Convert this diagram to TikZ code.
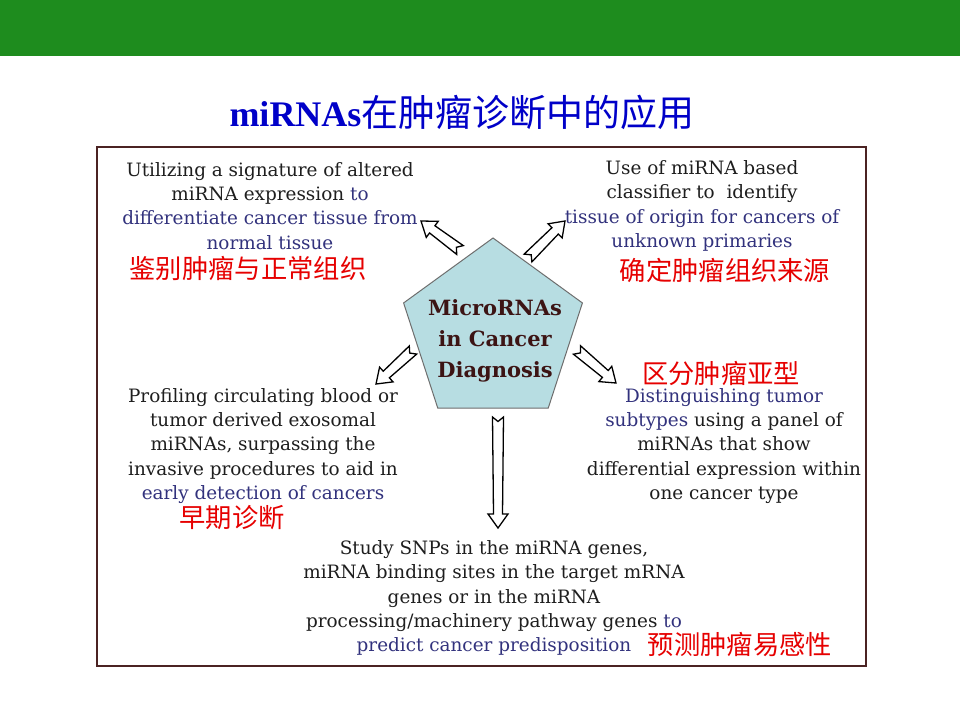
\documentclass[tikz,border=0pt]{standalone}
\usepackage{fontspec}
\setmainfont{DejaVu Serif}
\newfontfamily\cjk{Noto Sans CJK SC}
\newfontfamily\titlerm{Liberation Serif}
\usetikzlibrary{shapes.geometric,calc}
\definecolor{bandgreen}{RGB}{30,140,30}
\definecolor{titleblue}{RGB}{0,0,200}
\definecolor{txtdark}{RGB}{30,30,30}
\definecolor{txtblue}{RGB}{50,50,125}
\definecolor{framebrown}{RGB}{75,35,35}
\definecolor{pentfill}{RGB}{183,221,226}
\definecolor{pentdraw}{RGB}{110,110,110}
\definecolor{coretxt}{RGB}{60,20,20}
\definecolor{labred}{RGB}{230,0,0}
\newcommand{\bl}[1]{\textcolor{txtblue}{#1}}
\newcommand{\harrow}[2]{\path let \p1=(#1), \p2=(#2), \n1={atan2(\y2-\y1,\x2-\x1)}, \n2={veclen(\x2-\x1,\y2-\y1)} in pic[rotate=\n1] at (\p1) {harrow=\n2};}
\begin{document}
\begin{tikzpicture}[x=1pt,y=-1pt,
  body/.style={align=center, text=txtdark, font=\fontsize{18.4}{24.2}\selectfont, inner sep=0pt},
  redlab/.style={text=labred, font=\cjk\fontsize{26.3}{28}\selectfont, inner sep=0pt},
  pics/harrow/.style={code={\draw[line width=1.3pt, fill=white, line join=miter]
     (0,-5.5) -- ({#1-14},-4.5) -- ({#1-14},-10) -- ({#1},0) -- ({#1-14},10) -- ({#1-14},4.5) -- (0,5.5) -- (4.5,0) -- cycle;}}]
\useasboundingbox (0,0) rectangle (960,720);
\fill[white] (0,0) rectangle (960,720);
\fill[bandgreen] (0,0) rectangle (960,56);
\node[inner sep=0pt, text=titleblue] (title) at (462,112)
  {\titlerm\bfseries\fontsize{36}{40}\selectfont miRNAs\cjk\mdseries\fontsize{37}{40}\selectfont 在肿瘤诊断中的应用};
\draw[framebrown, line width=2pt] (97,147) rectangle (866,666);
\node[regular polygon, regular polygon sides=5, minimum size=188pt, inner sep=0pt,
      draw=pentdraw, fill=pentfill, line width=1pt] (core) at (493,332) {};
\node[align=center, text=coretxt, inner sep=0pt, font=\bfseries\fontsize{21}{31}\selectfont] (coretext) at (495,341)
  {MicroRNAs\\in Cancer\\Diagnosis};
\node[body] (tl) at (270,206) {Utilizing a signature of altered\\ miRNA expression \bl{to}\\ \bl{differentiate cancer tissue from}\\ \bl{normal tissue}};
\node[body] (tr) at (702,206) {Use of miRNA based\\ classifier to~ identify\\ \bl{tissue of origin for cancers of}\\ \bl{unknown primaries}};
\node[body] (bl) at (263,446) {Profiling circulating blood or\\ tumor derived exosomal\\ miRNAs, surpassing the\\ invasive procedures to aid in\\ \bl{early detection of cancers}};
\node[body] (br) at (724,446) {\bl{Distinguishing tumor}\\ \bl{subtypes} using a panel of\\ miRNAs that show\\ differential expression within\\ one cancer type};
\node[body] (bt) at (494,598) {Study SNPs in the miRNA genes,\\ miRNA binding sites in the target mRNA\\ genes or in the miRNA\\ processing/machinery pathway genes \bl{to}\\ \bl{predict cancer predisposition}};
\node[redlab] (l1) at (248,268) {鉴别肿瘤与正常组织};
\node[redlab] (l2) at (725,270) {确定肿瘤组织来源};
\node[redlab] (l3) at (721,373) {区分肿瘤亚型};
\node[redlab] (l4) at (232,518) {早期诊断};
\node[redlab] (l5) at (740,644) {预测肿瘤易感性};
\coordinate (a1t) at (460,250); \coordinate (a1h) at (421,221);
\coordinate (a2t) at (528,258); \coordinate (a2h) at (565,221);
\coordinate (a3t) at (413,350); \coordinate (a3h) at (376,384);
\coordinate (a4t) at (577,350); \coordinate (a4h) at (616,383);
\coordinate (a5t) at (498,417); \coordinate (a5h) at (498,528);
\harrow{a1t}{a1h}
\harrow{a2t}{a2h}
\harrow{a3t}{a3h}
\harrow{a4t}{a4h}
\harrow{a5t}{a5h}
\end{tikzpicture}
\end{document}
